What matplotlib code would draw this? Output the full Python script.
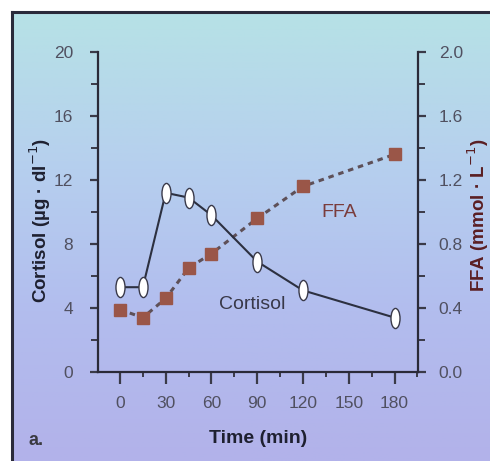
import numpy as np
import matplotlib
matplotlib.use("Agg")
import matplotlib.pyplot as plt
from matplotlib.path import Path
from matplotlib.transforms import Affine2D
from matplotlib.ticker import MultipleLocator
from matplotlib.colors import LinearSegmentedColormap

plt.rcParams['font.family'] = ['Liberation Sans', 'DejaVu Sans']

# sampling times (min)
cortisol_time = [0, 15, 30, 45, 60, 90, 120, 180]
cortisol = [5.3, 5.3, 11.2, 10.9, 9.8, 6.9, 5.1, 3.4]   # ug/dl

ffa_time = [0, 15, 30, 45, 60, 90, 120, 180]
ffa = [0.39, 0.34, 0.46, 0.65, 0.74, 0.96, 1.16, 1.36]   # mmol/L

x_ticks = [0, 30, 60, 90, 120, 150, 180]
left_ticks = [0, 4, 8, 12, 16, 20]
right_ticks = [0.0, 0.4, 0.8, 1.2, 1.6, 2.0]

fig = plt.figure(figsize=(4.9, 4.61), dpi=100)

# panel background with soft vertical gradient
bg = fig.add_axes([12 / 490, 0, 1 - 12 / 490, 1 - 12 / 461], zorder=-5)
cmap = LinearSegmentedColormap.from_list(
    "panel", ["#b2b2ea", "#b2bdee", "#b6d0ee", "#b6e2e6"])
grad = np.linspace(0, 1, 256).reshape(-1, 1)
bg.imshow(grad, aspect="auto", cmap=cmap, origin="lower",
          extent=(0, 1, 0, 1))
bg.set_xticks([])
bg.set_yticks([])
for s in bg.spines.values():
    s.set_color("#2a2a3a")
    s.set_linewidth(2.2)
bg.spines["right"].set_visible(False)
bg.spines["bottom"].set_visible(False)

ax = fig.add_axes([98 / 490, 1 - 372 / 461, 320 / 490, 320 / 461])
ax.patch.set_alpha(0)
ax.set_xlim(-14.4, 195.4)
ax.set_ylim(0, 20)

tick_color = "#3a3a48"
label_color = "#505060"
for side in ("left", "bottom"):
    ax.spines[side].set_color("#2a2a38")
    ax.spines[side].set_linewidth(1.6)
ax.spines["top"].set_visible(False)
ax.spines["right"].set_visible(False)

ax.set_xticks(x_ticks)
ax.xaxis.set_minor_locator(MultipleLocator(15))
ax.set_yticks(left_ticks)
ax.yaxis.set_minor_locator(MultipleLocator(2))
ax.tick_params(axis="x", which="major", direction="out", length=8.5,
               width=1.6, color=tick_color, labelsize=12.5,
               labelcolor=label_color, pad=9)
ax.tick_params(axis="x", which="minor", direction="out", length=3.5,
               width=1.4, color=tick_color)
ax.tick_params(axis="y", which="major", direction="out", length=6,
               width=1.6, color=tick_color, labelsize=12.5,
               labelcolor=label_color, pad=12)
ax.tick_params(axis="y", which="minor", direction="out", length=5,
               width=1.4, color=tick_color)

ax2 = ax.twinx()
ax2.set_ylim(0, 2.0)
ax2.set_yticks(right_ticks)
ax2.set_yticklabels([f"{v:.1f}" for v in right_ticks])
ax2.yaxis.set_minor_locator(MultipleLocator(0.2))
for side in ("left", "top", "bottom"):
    ax2.spines[side].set_visible(False)
ax2.spines["right"].set_color("#2a2a38")
ax2.spines["right"].set_linewidth(1.6)
ax2.tick_params(axis="y", which="major", direction="out", length=6,
                width=1.6, color=tick_color, labelsize=12.5,
                labelcolor=label_color, pad=9)
ax2.tick_params(axis="y", which="minor", direction="out", length=5,
                width=1.4, color=tick_color)

# FFA: brown squares on a dotted line
ax2.plot(ffa_time, ffa, linestyle=(0, (1.8, 1.6)), color="#5e5058",
         linewidth=2.2, marker="s", markersize=8, markerfacecolor="#9a5648",
         markeredgecolor="#9a5648", zorder=3)
ax2.text(144, 1.0, "FFA", ha="center", va="center",
         fontsize=14, color="#7a3c3c")

# cortisol: tall white ovals on a solid line
oval = Path.unit_circle().transformed(Affine2D().scale(0.45, 1.0))
ax.plot(cortisol_time, cortisol, color="#2c3040", linewidth=1.5,
        marker=oval, markersize=14.5, markerfacecolor="white",
        markeredgecolor="#3a3a4a", markeredgewidth=1.0, zorder=4)
ax.text(87, 4.2, "Cortisol", ha="center", va="center",
        fontsize=14, color="#383848")
ax.set_zorder(ax2.get_zorder() + 1)

fig.text(40 / 490, 1 - 220 / 461, "Cortisol (\u00b5g \u00b7 dl$^{-1}$)",
         rotation=90, ha="center", va="center", fontsize=13.5,
         fontweight="bold", color="#1e2030")
fig.text(478 / 490, 1 - 215 / 461, "FFA (mmol \u00b7 L$^{-1}$)",
         rotation=90, ha="center", va="center", fontsize=13.5,
         fontweight="bold", color="#5a1e22")
fig.text(258 / 490, 1 - 438 / 461, "Time (min)", ha="center", va="center",
         fontsize=14, fontweight="bold", color="#1e2030")
fig.text(28 / 490, 1 - 440 / 461, "a.", ha="left", va="center",
         fontsize=13, fontweight="bold", color="#3a3a40")

fig.savefig("out.png", dpi=100)
